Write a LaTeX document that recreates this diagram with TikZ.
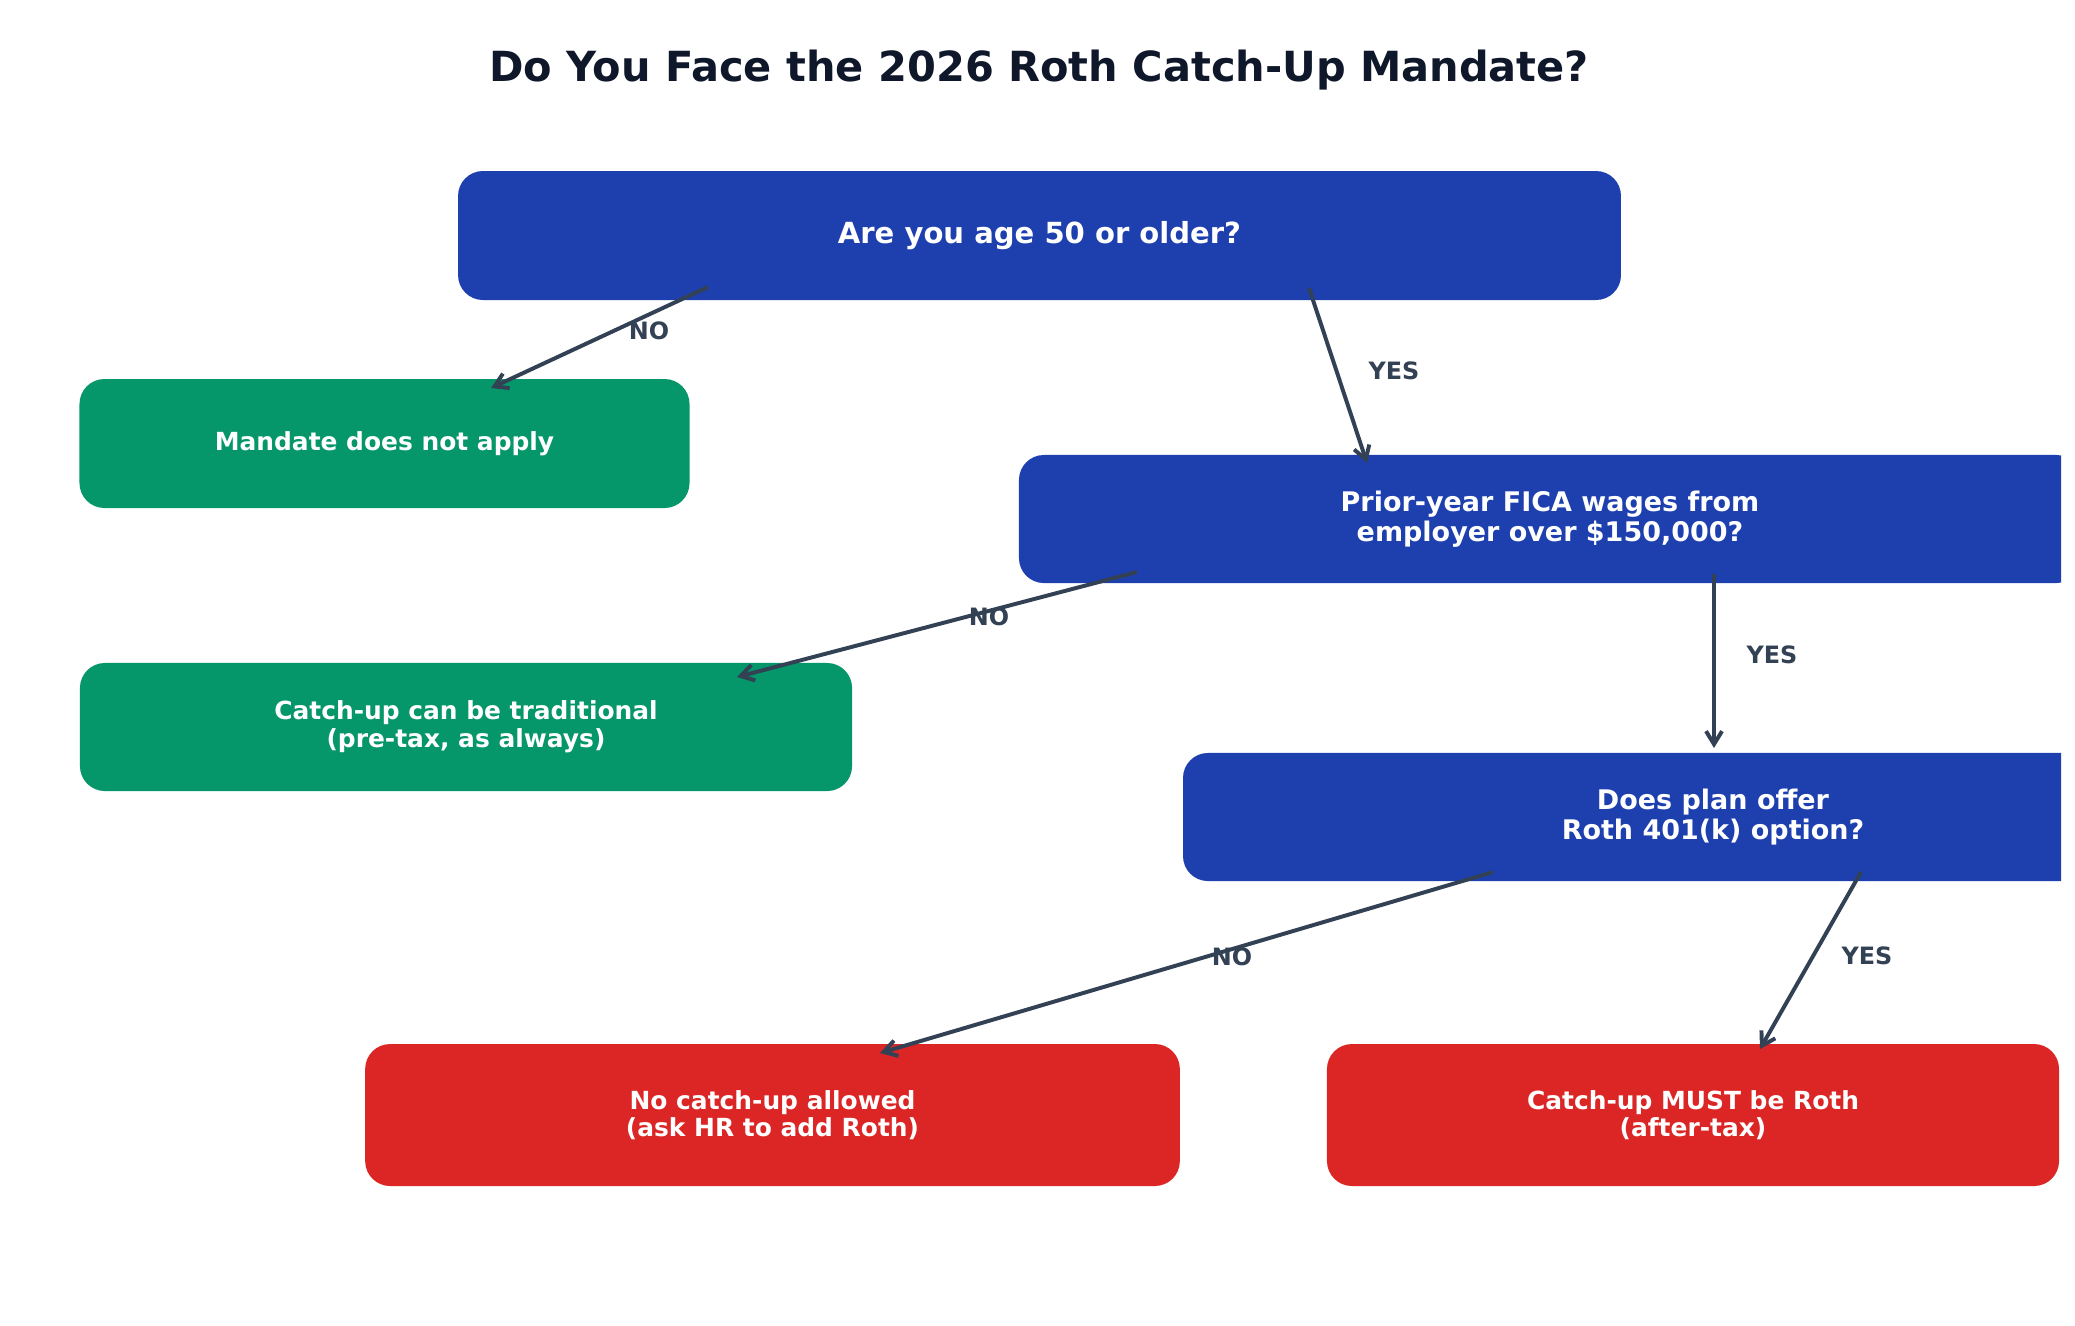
\documentclass[tikz,border=0pt]{standalone}
\usepackage{fontspec}
\setmainfont{DejaVu Sans}
\usetikzlibrary{arrows.meta}
\definecolor{qblue}{HTML}{1E40AF}
\definecolor{okgreen}{HTML}{059669}
\definecolor{badred}{HTML}{DC2626}
\definecolor{arrowc}{HTML}{334155}
\definecolor{titlec}{HTML}{0F172A}
\begin{document}
\begin{tikzpicture}[x=0.4818pt,y=-0.4818pt,
  box/.style={rectangle, rounded corners=12pt, inner sep=0pt, align=center, text=white,
    font=\bfseries\fontsize{12}{13.3}\selectfont},
  qbox/.style={box, fill=qblue, font=\bfseries\fontsize{13}{14.4}\selectfont},
  gbox/.style={box, fill=okgreen},
  rbox/.style={box, fill=badred},
  conn/.style={draw=arrowc, line width=1.9pt, -{Straight Barb[length=6.3pt,width=7.7pt]}},
  lab/.style={text=arrowc, inner sep=0pt, font=\bfseries\fontsize{11.5}{12}\selectfont}]
\useasboundingbox (0,0) rectangle (2075,1325);
\fill[white] (0,0) rectangle (2075,1325);
\node[text=titlec, anchor=base, inner sep=0pt, font=\bfseries\fontsize{20}{24}\selectfont] (title) at (1039,81) {Do You Face the 2026 Roth Catch-Up Mandate?};
\begin{scope}
\clip (0,0) rectangle (2061,1325);
\node[qbox, minimum width=560.3pt, minimum height=62.15pt, font=\bfseries\fontsize{14}{14.6}\selectfont] (age) at (1039.5,235.5) {Are you age 50 or older?};
\node[gbox, minimum width=293.9pt, minimum height=62.15pt] (mandate) at (384.5,443.5) {Mandate does not apply};
\node[qbox, minimum width=511.7pt, minimum height=61.7pt] (fica) at (1550,519) {Prior-year FICA wages from\\employer over \$150,000?};
\node[gbox, minimum width=372pt, minimum height=61.7pt] (trad) at (466,727) {Catch-up can be traditional\\(pre-tax, as always)};
\node[qbox, minimum width=510.7pt, minimum height=61.7pt] (plan) at (1713,817) {Does plan offer\\Roth 401(k) option?};
\node[rbox, minimum width=392.5pt, minimum height=68.4pt] (nocatch) at (772.5,1115) {No catch-up allowed\\(ask HR to add Roth)};
\node[rbox, minimum width=352.7pt, minimum height=68.4pt] (must) at (1693,1115) {Catch-up MUST be Roth\\(after-tax)};
\end{scope}
% connector end points
\coordinate (a1s) at (708,287);   \coordinate (a1e) at (491,388);
\coordinate (a2s) at (1309,288);  \coordinate (a2e) at (1367,463);
\coordinate (a3s) at (1137,572);  \coordinate (a3e) at (737,677);
\coordinate (a4s) at (1714,574);  \coordinate (a4e) at (1714,748);
\coordinate (a5s) at (1493,872);  \coordinate (a5e) at (880,1053);
\coordinate (a6s) at (1861,872);  \coordinate (a6e) at (1760,1049);
\draw[conn] (a1s) -- (a1e);
\draw[conn] (a2s) -- (a2e);
\draw[conn] (a3s) -- (a3e);
\draw[conn] (a4s) -- (a4e);
\draw[conn] (a5s) -- (a5e);
\draw[conn] (a6s) -- (a6e);
\node[lab] (l1) at (649,331) {NO};
\node[lab] (l2) at (1394,371) {YES};
\node[lab] (l3) at (989,617) {NO};
\node[lab] (l4) at (1772,655) {YES};
\node[lab] (l5) at (1232,957) {NO};
\node[lab] (l6) at (1867,956) {YES};
\end{tikzpicture}
\end{document}
